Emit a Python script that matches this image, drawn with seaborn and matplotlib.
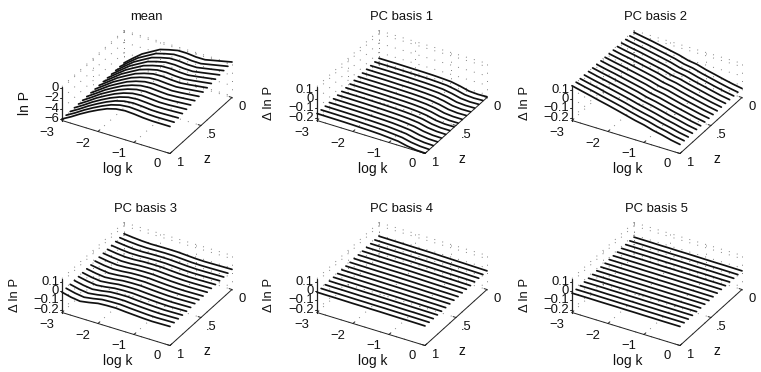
import numpy as np
import pandas as pd
import matplotlib
matplotlib.use('Agg')
import matplotlib.pyplot as plt
import seaborn as sns

log_k = [-3, -2.75, -2.5, -2.25, -2, -1.75, -1.5, -1.25, -1, -0.75, -0.5, -0.25, 0]
z_values = [0, 1/15, 2/15, 3/15, 4/15, 5/15, 6/15, 7/15, 8/15, 9/15, 10/15, 11/15, 12/15, 13/15, 14/15, 1]

mean_rows = [
    [-6.00,-4.55,-3.19,-2.22,-1.25,-0.77,-0.38,-0.38,-0.57,-0.57,-0.18,0.20,0.59],
    [-6.00,-4.58,-3.24,-2.27,-1.31,-0.81,-0.41,-0.40,-0.58,-0.60,-0.24,0.12,0.48],
    [-6.00,-4.62,-3.29,-2.32,-1.37,-0.85,-0.44,-0.42,-0.60,-0.62,-0.30,0.03,0.37],
    [-6.00,-4.65,-3.35,-2.38,-1.43,-0.89,-0.48,-0.44,-0.61,-0.65,-0.36,-0.05,0.26],
    [-6.00,-4.68,-3.40,-2.43,-1.49,-0.93,-0.51,-0.46,-0.62,-0.67,-0.42,-0.14,0.15],
    [-6.00,-4.72,-3.45,-2.48,-1.54,-0.96,-0.54,-0.48,-0.64,-0.70,-0.47,-0.22,0.04],
    [-6.00,-4.75,-3.50,-2.53,-1.60,-1.00,-0.57,-0.50,-0.65,-0.73,-0.53,-0.30,-0.07],
    [-6.00,-4.78,-3.55,-2.58,-1.66,-1.04,-0.60,-0.52,-0.66,-0.75,-0.59,-0.39,-0.18],
    [-6.00,-4.81,-3.61,-2.64,-1.72,-1.08,-0.64,-0.53,-0.67,-0.78,-0.65,-0.47,-0.29],
    [-6.00,-4.85,-3.66,-2.69,-1.78,-1.12,-0.67,-0.55,-0.69,-0.80,-0.71,-0.56,-0.40],
    [-6.00,-4.88,-3.71,-2.74,-1.84,-1.16,-0.70,-0.57,-0.70,-0.83,-0.77,-0.64,-0.51],
    [-6.00,-4.91,-3.76,-2.79,-1.90,-1.20,-0.73,-0.59,-0.72,-0.86,-0.83,-0.72,-0.62],
    [-6.00,-4.95,-3.82,-2.84,-1.96,-1.24,-0.76,-0.61,-0.73,-0.88,-0.88,-0.81,-0.73],
    [-6.00,-4.98,-3.87,-2.90,-2.01,-1.27,-0.80,-0.63,-0.74,-0.91,-0.94,-0.89,-0.84],
    [-6.00,-5.01,-3.92,-2.95,-2.07,-1.31,-0.83,-0.65,-0.76,-0.93,-1.00,-0.98,-0.95],
    [-6.00,-5.04,-3.97,-3.00,-2.13,-1.35,-0.86,-0.67,-0.77,-0.96,-1.06,-1.06,-1.06],
]

pc1_rows = [
    [-.163,-.163,-.163,-.164,-.165,-.166,-.168,-.172,-.178,-.196,-.220,-.226,-.222],
    [-.162,-.163,-.163,-.164,-.165,-.166,-.168,-.172,-.178,-.195,-.219,-.226,-.222],
    [-.162,-.162,-.162,-.163,-.164,-.166,-.168,-.172,-.178,-.195,-.218,-.226,-.223],
    [-.161,-.162,-.162,-.163,-.164,-.165,-.168,-.172,-.178,-.194,-.218,-.225,-.223],
    [-.161,-.161,-.161,-.162,-.164,-.165,-.167,-.171,-.178,-.193,-.217,-.225,-.223],
    [-.160,-.161,-.161,-.162,-.163,-.165,-.167,-.171,-.178,-.193,-.216,-.225,-.223],
    [-.160,-.160,-.161,-.162,-.163,-.165,-.167,-.171,-.178,-.192,-.215,-.224,-.224],
    [-.159,-.160,-.160,-.161,-.163,-.165,-.167,-.171,-.178,-.191,-.214,-.224,-.224],
    [-.159,-.159,-.160,-.161,-.162,-.164,-.167,-.171,-.178,-.191,-.214,-.224,-.224],
    [-.158,-.159,-.159,-.160,-.162,-.164,-.167,-.171,-.178,-.190,-.213,-.224,-.224],
    [-.158,-.158,-.159,-.160,-.162,-.164,-.167,-.171,-.178,-.189,-.212,-.223,-.225],
    [-.157,-.158,-.159,-.160,-.161,-.164,-.167,-.170,-.178,-.189,-.211,-.223,-.225],
    [-.157,-.157,-.158,-.159,-.161,-.164,-.166,-.170,-.178,-.188,-.210,-.223,-.225],
    [-.156,-.157,-.158,-.159,-.161,-.163,-.166,-.170,-.178,-.187,-.210,-.222,-.225],
    [-.156,-.156,-.157,-.158,-.160,-.163,-.166,-.170,-.178,-.187,-.209,-.222,-.226],
    [-.155,-.156,-.157,-.158,-.160,-.163,-.166,-.170,-.178,-.186,-.208,-.222,-.226],
]

pc2_rows = [
    [.115,.097,.080,.060,.040,.020,-.008,-.022,-.050,-.072,-.095,-.116,-.133],
    [.117,.098,.081,.061,.041,.021,-.007,-.022,-.050,-.072,-.095,-.116,-.133],
    [.119,.100,.082,.062,.042,.021,-.007,-.022,-.049,-.072,-.095,-.116,-.133],
    [.121,.101,.084,.063,.042,.022,-.006,-.022,-.049,-.071,-.094,-.116,-.133],
    [.123,.103,.085,.064,.043,.022,-.006,-.022,-.048,-.071,-.094,-.116,-.133],
    [.125,.104,.086,.065,.044,.023,-.005,-.022,-.048,-.071,-.094,-.115,-.133],
    [.126,.106,.087,.066,.045,.023,-.004,-.021,-.047,-.071,-.093,-.115,-.133],
    [.128,.107,.088,.067,.046,.024,-.004,-.021,-.047,-.071,-.093,-.115,-.133],
    [.130,.109,.090,.068,.046,.025,-.003,-.021,-.046,-.071,-.093,-.115,-.133],
    [.132,.110,.091,.069,.047,.025,-.002,-.021,-.046,-.070,-.092,-.115,-.133],
    [.134,.112,.092,.070,.048,.026,-.002,-.021,-.045,-.070,-.092,-.115,-.133],
    [.136,.113,.093,.071,.049,.026,-.001,-.021,-.045,-.070,-.091,-.115,-.133],
    [.138,.115,.094,.072,.050,.027,.001,-.021,-.044,-.070,-.091,-.115,-.133],
    [.139,.117,.096,.072,.050,.027,.001,-.022,-.043,-.070,-.091,-.115,-.133],
    [.141,.118,.097,.073,.051,.028,.002,-.022,-.043,-.070,-.090,-.115,-.133],
    [.143,.120,.098,.074,.052,.028,.003,-.022,-.042,-.070,-.090,-.115,-.133],
]

pc3_rows = [
    [.014,.004,-.004,-.008,-.006,-.005,-.006,-.012,-.018,-.020,-.018,-.016,-.014],
    [.012,.001,-.007,-.010,-.007,-.005,-.006,-.012,-.018,-.020,-.019,-.017,-.015],
    [.011,-.001,-.010,-.011,-.007,-.005,-.006,-.012,-.018,-.021,-.020,-.018,-.016],
    [.009,-.004,-.013,-.013,-.008,-.006,-.006,-.012,-.018,-.021,-.020,-.018,-.016],
    [.007,-.007,-.016,-.015,-.008,-.006,-.006,-.013,-.019,-.022,-.021,-.019,-.017],
    [.005,-.009,-.019,-.017,-.009,-.006,-.006,-.013,-.019,-.022,-.022,-.020,-.018],
    [.004,-.012,-.022,-.018,-.009,-.006,-.006,-.013,-.019,-.022,-.023,-.021,-.019],
    [.002,-.015,-.025,-.020,-.010,-.006,-.006,-.013,-.019,-.023,-.024,-.022,-.020],
    [.000,-.017,-.029,-.022,-.010,-.007,-.006,-.013,-.019,-.023,-.024,-.022,-.020],
    [-.002,-.020,-.032,-.024,-.011,-.007,-.006,-.013,-.019,-.024,-.025,-.023,-.021],
    [-.003,-.023,-.035,-.025,-.011,-.007,-.006,-.013,-.019,-.024,-.026,-.024,-.022],
    [-.005,-.025,-.038,-.027,-.012,-.007,-.006,-.013,-.019,-.024,-.027,-.025,-.023],
    [-.007,-.028,-.041,-.029,-.012,-.007,-.006,-.014,-.020,-.025,-.028,-.026,-.024],
    [-.008,-.031,-.044,-.031,-.013,-.007,-.006,-.014,-.020,-.025,-.028,-.026,-.024],
    [-.010,-.033,-.047,-.032,-.013,-.008,-.006,-.014,-.020,-.026,-.029,-.027,-.025],
    [-.012,-.036,-.050,-.034,-.014,-.008,-.006,-.014,-.020,-.026,-.030,-.028,-.026],
]

pc4_rows = [
    [-.012,-.013,-.014,-.015,-.016,-.017,-.018,-.020,-.022,-.024,-.026,-.028,-.030],
    [-.012,-.013,-.014,-.015,-.016,-.017,-.018,-.020,-.022,-.024,-.025,-.027,-.029],
    [-.012,-.013,-.014,-.015,-.016,-.017,-.018,-.020,-.021,-.023,-.025,-.027,-.029],
    [-.012,-.013,-.014,-.015,-.016,-.017,-.018,-.019,-.021,-.023,-.025,-.026,-.028],
    [-.012,-.013,-.014,-.015,-.016,-.016,-.018,-.019,-.021,-.023,-.024,-.026,-.028],
    [-.012,-.013,-.014,-.015,-.016,-.016,-.017,-.019,-.020,-.022,-.024,-.025,-.027],
    [-.012,-.013,-.014,-.015,-.016,-.016,-.017,-.018,-.020,-.022,-.023,-.025,-.026],
    [-.012,-.013,-.014,-.015,-.015,-.016,-.017,-.018,-.020,-.021,-.023,-.024,-.026],
    [-.012,-.013,-.014,-.015,-.015,-.016,-.017,-.018,-.019,-.021,-.022,-.024,-.025],
    [-.012,-.013,-.014,-.014,-.015,-.016,-.017,-.018,-.019,-.020,-.022,-.023,-.024],
    [-.012,-.013,-.013,-.014,-.015,-.016,-.017,-.017,-.019,-.020,-.021,-.022,-.024],
    [-.012,-.013,-.013,-.014,-.015,-.016,-.016,-.017,-.018,-.019,-.021,-.022,-.023],
    [-.012,-.013,-.013,-.014,-.015,-.015,-.016,-.017,-.018,-.019,-.020,-.021,-.022],
    [-.012,-.013,-.013,-.014,-.015,-.015,-.016,-.016,-.018,-.019,-.019,-.020,-.022],
    [-.012,-.013,-.013,-.014,-.015,-.015,-.016,-.016,-.017,-.018,-.019,-.020,-.021],
    [-.012,-.013,-.013,-.014,-.015,-.015,-.016,-.016,-.017,-.018,-.018,-.019,-.020],
]

pc5_rows = [
    [-.022,-.022,-.023,-.024,-.024,-.025,-.025,-.026,-.027,-.028,-.028,-.029,-.030],
    [-.022,-.022,-.023,-.024,-.024,-.025,-.025,-.026,-.027,-.028,-.028,-.029,-.030],
    [-.022,-.022,-.023,-.024,-.024,-.025,-.025,-.026,-.027,-.027,-.028,-.029,-.030],
    [-.022,-.022,-.023,-.023,-.024,-.025,-.025,-.026,-.027,-.027,-.028,-.029,-.029],
    [-.022,-.022,-.023,-.023,-.024,-.025,-.025,-.026,-.026,-.027,-.028,-.028,-.029],
    [-.022,-.022,-.023,-.023,-.024,-.024,-.025,-.026,-.026,-.027,-.028,-.028,-.029],
    [-.022,-.022,-.023,-.023,-.024,-.024,-.025,-.025,-.026,-.027,-.027,-.028,-.029],
    [-.022,-.022,-.023,-.023,-.024,-.024,-.025,-.025,-.026,-.027,-.027,-.028,-.028],
    [-.022,-.022,-.023,-.023,-.024,-.024,-.025,-.025,-.026,-.026,-.027,-.028,-.028],
    [-.022,-.022,-.023,-.023,-.024,-.024,-.025,-.025,-.026,-.026,-.027,-.027,-.028],
    [-.022,-.022,-.023,-.023,-.023,-.024,-.025,-.025,-.026,-.026,-.027,-.027,-.028],
    [-.022,-.022,-.022,-.023,-.023,-.024,-.024,-.025,-.025,-.026,-.027,-.027,-.027],
    [-.022,-.022,-.022,-.023,-.023,-.024,-.024,-.025,-.025,-.026,-.026,-.027,-.027],
    [-.022,-.022,-.022,-.023,-.023,-.024,-.024,-.025,-.025,-.026,-.026,-.026,-.027],
    [-.022,-.022,-.022,-.023,-.023,-.024,-.024,-.024,-.025,-.025,-.026,-.026,-.026],
    [-.022,-.022,-.022,-.023,-.023,-.023,-.024,-.024,-.025,-.025,-.026,-.026,-.026],
]

titles = ['mean', 'PC basis 1', 'PC basis 2', 'PC basis 3', 'PC basis 4', 'PC basis 5']
all_rows = [mean_rows, pc1_rows, pc2_rows, pc3_rows, pc4_rows, pc5_rows]

k_ticks = [-3, -2, -1, 0]
k_labels = ['\u22123', '\u22122', '\u22121', '0']
z_ticks = [0, 0.5, 1]
z_labels = ['0', '.5', '1']
mean_ticks = [-6, -4, -2, 0]
mean_labels = ['\u22126', '\u22124', '\u22122', '0']
pc_ticks = [-0.2, -0.1, 0, 0.1]
pc_labels = ['\u22120.2', '\u22120.1', '0', '0.1']
mean_lim = (-6.3, 0.3)
pc_lim = (-0.23, 0.135)

W, H = 761, 372
PANEL_W, PANEL_H = 251, 180
STEP_X, STEP_Y = 255, 192
ylabel_x = [[25, 14, 15], [15, 14, 15]]

sns.set_theme(style='white')
plt.rcParams['font.family'] = ['Liberation Sans', 'DejaVu Sans']

fig = plt.figure(figsize=(W/100, H/100), dpi=100)


def project(k, z, y, lim):
    # oblique view, panel pixels: k runs right/down, z runs back/up
    frac = (np.asarray(y, dtype=float) - lim[0]) / (lim[1] - lim[0])
    k = np.asarray(k, dtype=float)
    z = np.asarray(z, dtype=float)
    sx = 62 + (k + 3) * 36 + (1 - z) * 62
    sy = 120.5 + (k + 3) * 11 - (1 - z) * 56 - frac * 34
    return sx, sy


for i, (title, rows) in enumerate(zip(titles, all_rows)):
    col, row = i % 3, i // 3
    ax = fig.add_axes([col*STEP_X/W, 1 - (row*STEP_Y + PANEL_H)/H, PANEL_W/W, PANEL_H/H])
    ax.set_xlim(0, PANEL_W)
    ax.set_ylim(PANEL_H, 0)
    ax.axis('off')

    if i == 0:
        lim, y_ticks, y_labels, y_name = mean_lim, mean_ticks, mean_labels, 'ln P'
    else:
        lim, y_ticks, y_labels, y_name = pc_lim, pc_ticks, pc_labels, '\u0394 ln P'

    # dotted grid on the floor and the two back walls
    dots = dict(color='#808080', lw=0.7, ls=(0, (1, 7.5)), zorder=1)
    for k in k_ticks:
        ax.plot(*project([k, k], [1, 0], [lim[0], lim[0]], lim), **dots)
        ax.plot(*project([k, k], [0, 0], lim, lim), **dots)
    for z in z_ticks:
        ax.plot(*project([-3, 0], [z, z], [lim[0], lim[0]], lim), **dots)
        ax.plot(*project([-3, -3], [z, z], lim, lim), **dots)
    for t in y_ticks + [lim[1]]:
        ax.plot(*project([-3, 0], [0, 0], [t, t], lim), **dots)
        ax.plot(*project([-3, -3], [1, 0], [t, t], lim), **dots)

    # the curves
    frames = []
    for z, values in zip(z_values, rows):
        sx, sy = project(log_k, [z]*len(log_k), values, lim)
        frames.append(pd.DataFrame({'sx': sx, 'sy': sy, 'z': z}))
    df = pd.concat(frames)
    sns.lineplot(data=df, x='sx', y='sy', units='z', estimator=None, sort=False,
                 color='#111111', lw=1.25, ax=ax, legend=False, zorder=3)
    ax.set_xlim(0, PANEL_W)
    ax.set_ylim(PANEL_H, 0)

    # box edges and ticks
    edge = dict(color='#222222', lw=0.7, zorder=2)
    ax.plot(*project([-3, 0], [1, 1], [lim[0], lim[0]], lim), **edge)
    ax.plot(*project([0, 0], [1, 0], [lim[0], lim[0]], lim), **edge)
    ax.plot(*project([-3, -3], [1, 1], lim, lim), color='#222222', lw=0.9, zorder=2)

    for k, lab in zip(k_ticks, k_labels):
        x0, y0 = project(k, 1, lim[0], lim)
        x1, y1 = project(k, 0.97, lim[0], lim)
        ax.plot([x0, x1], [y0, y1], **edge)
        ax.text(x0 - (15 if k < 0 else 13), y0 + 12.5 - max(0, k + 2), lab, fontsize=9.4,
                ha='center', va='center', color='#111111')
    for z, lab in zip(z_ticks, z_labels):
        x0, y0 = project(0, z, lim[0], lim)
        x1, y1 = project(-0.08, z, lim[0], lim)
        ax.plot([x0, x1], [y0, y1], **edge)
        ax.text(x0 + 10, y0 + 9.5, lab, fontsize=9.4, ha='center', va='center', color='#111111')
    for t, lab in zip(y_ticks, y_labels):
        x0, y0 = project(-3, 1, t, lim)
        ax.plot([x0, x0 - 2], [y0, y0], **edge)
        ax.text(x0 - 3, y0, lab, fontsize=9.4, ha='right', va='center', color='#111111')

    ax.text(118, 169, 'log k', fontsize=10, ha='center', va='center', color='#111111')
    ax.text(207, 159, 'z', fontsize=10, ha='center', va='center', color='#111111')
    ax.text(ylabel_x[row][col], 103, y_name, fontsize=10 if i == 0 else 9.4, rotation=90,
            ha='center', va='center', color='#111111')
    ax.set_title(title, x=146/PANEL_W, y=1 - 17.5/PANEL_H, pad=0, fontsize=9.4, va='center', color='#111111')

fig.savefig('out.png', dpi=100)
